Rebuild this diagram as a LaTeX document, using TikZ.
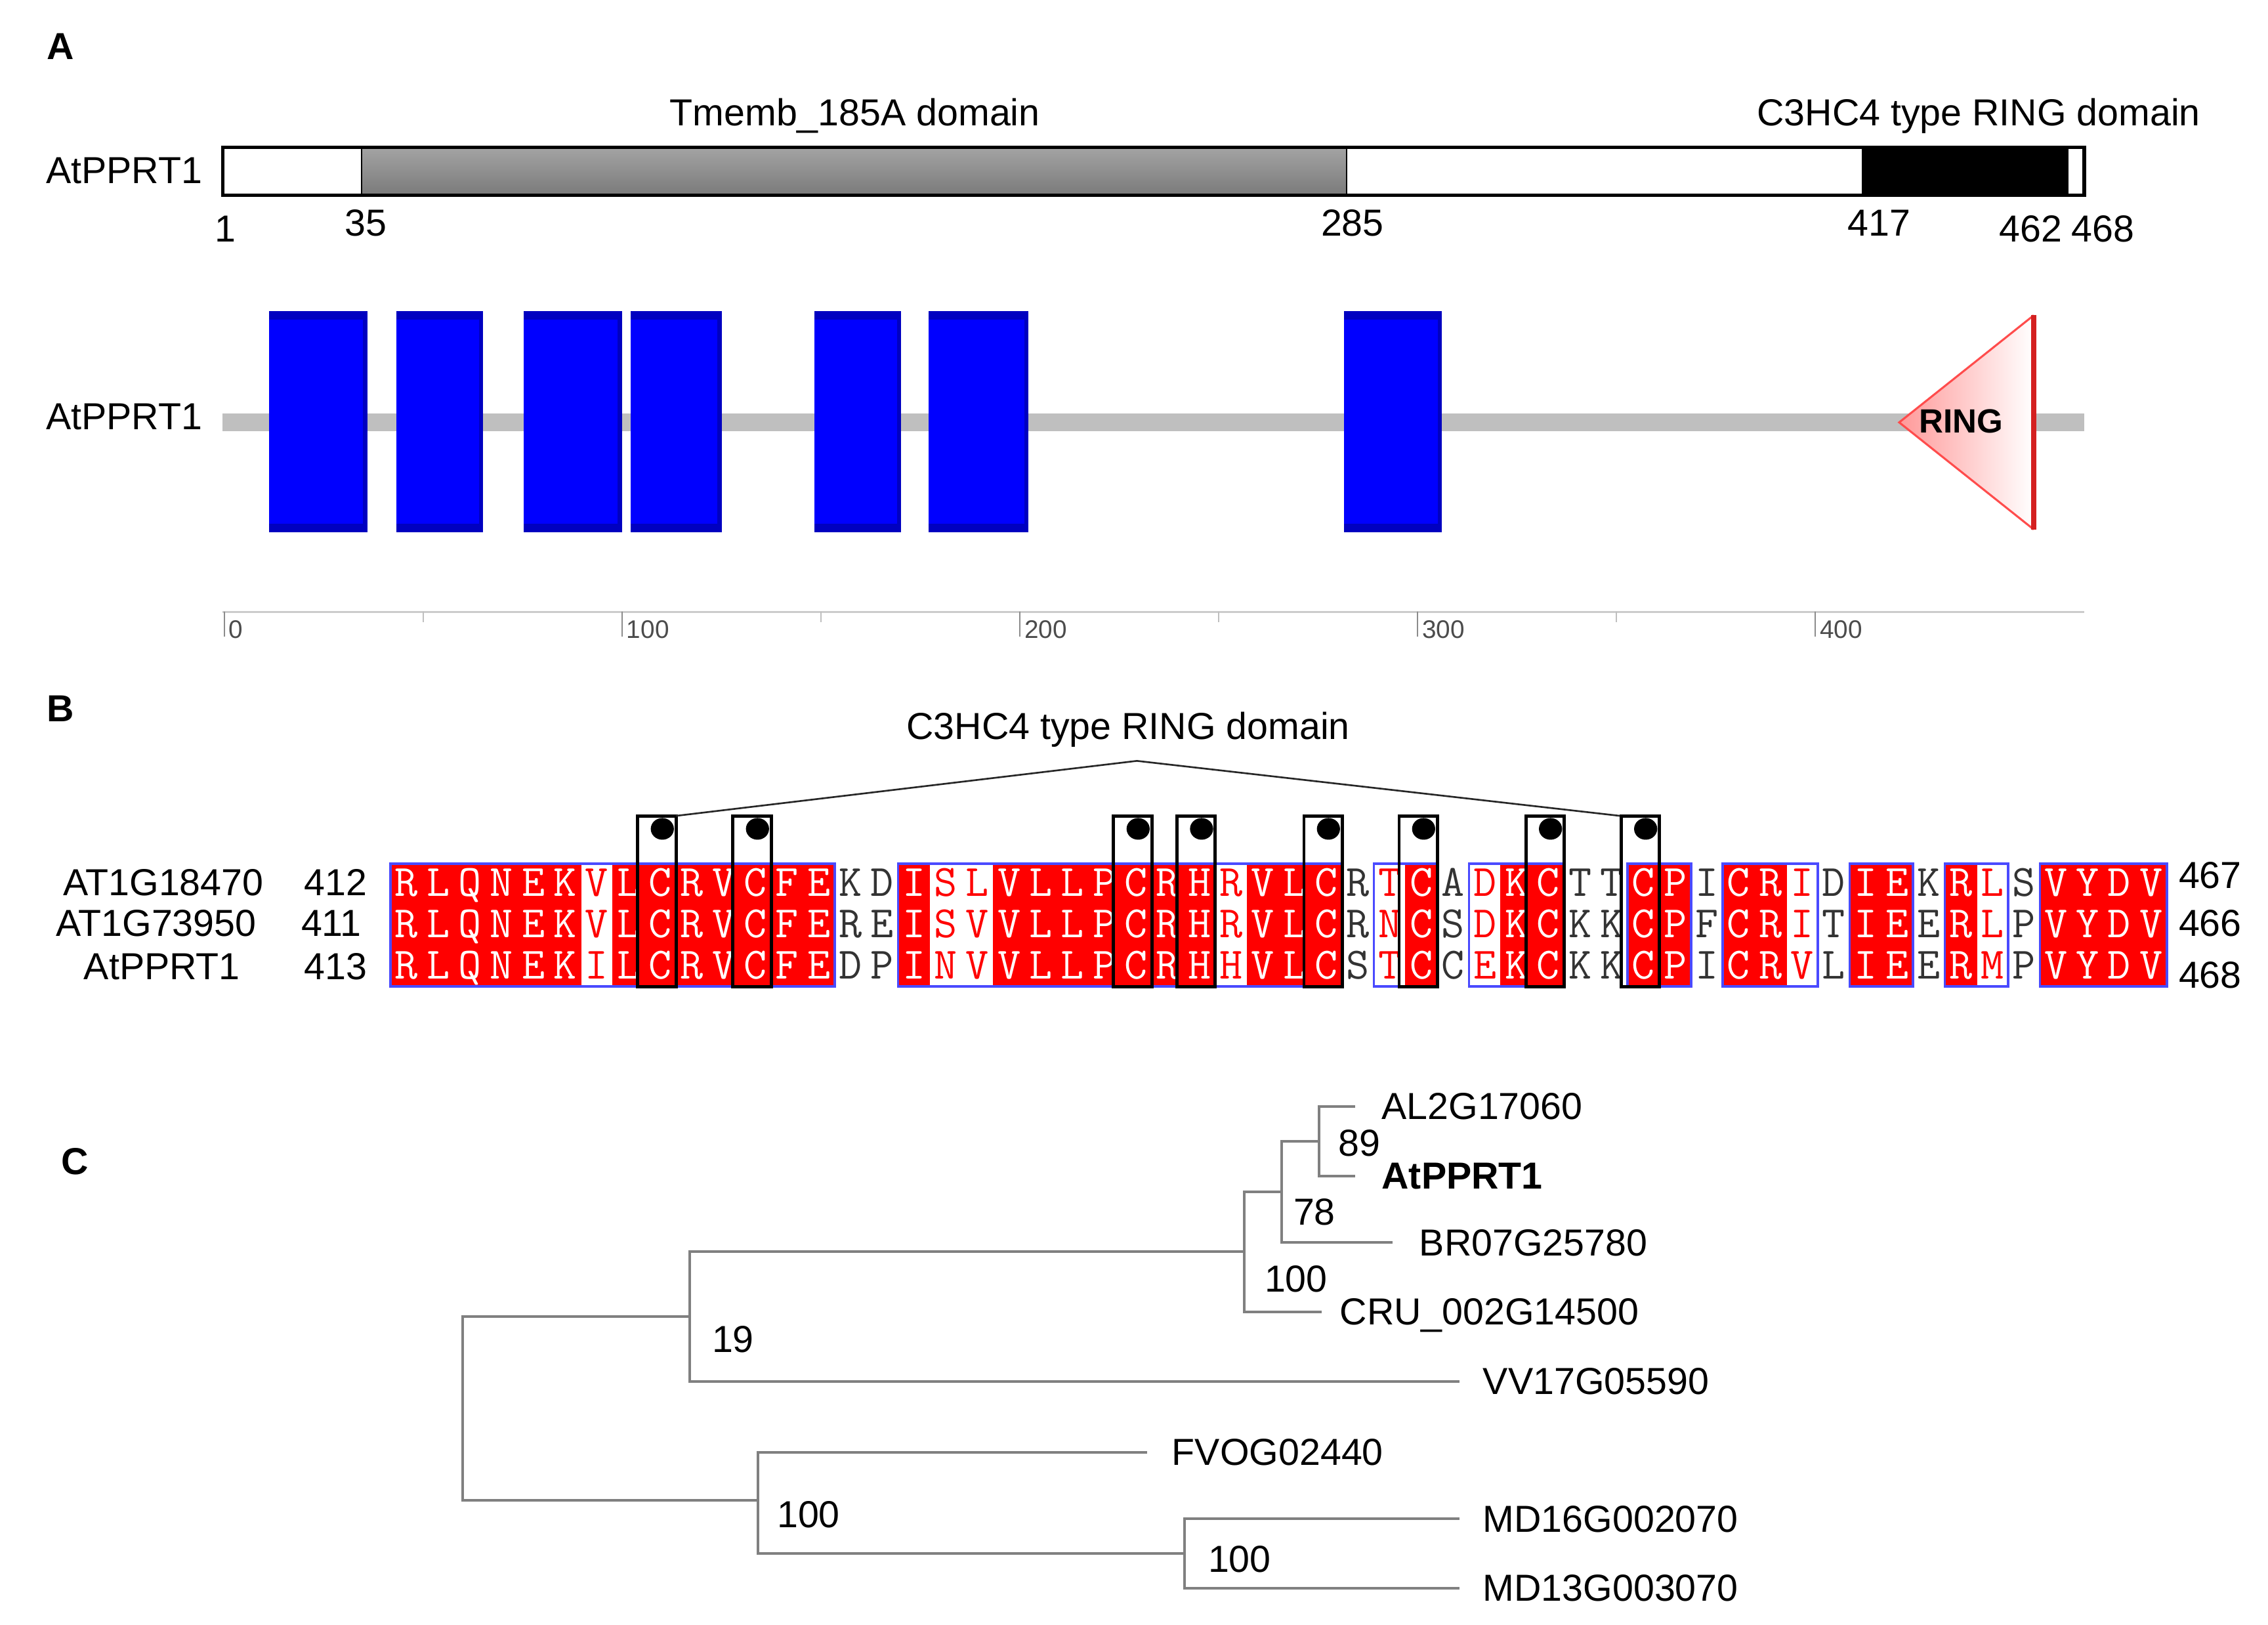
\documentclass[tikz,border=0pt]{standalone}
\usepackage{fontspec}
\setmainfont{Liberation Sans}
\newcommand\lblfont{\fontsize{18.5}{22}\selectfont}
\newcommand\axfont{\fontsize{12.5}{15}\selectfont}
\newcommand\resfont{\fontsize{22}{22}\ttfamily\selectfont\addfontfeatures{FakeStretch=1.12}}
\newcommand\ringfont{\fontsize{16.5}{18}\bfseries\selectfont}
\definecolor{tmblue}{HTML}{0000FF}
\definecolor{tmdark}{HTML}{0000C0}
\definecolor{ringred}{HTML}{D42020}
\definecolor{framebl}{HTML}{4A4AFF}
\definecolor{treegray}{HTML}{808080}
\tikzset{
  lbl/.style={font=\lblfont, inner sep=0pt, anchor=base},
  lblw/.style={lbl, anchor=base west},
  lble/.style={lbl, anchor=base east},
  panel/.style={font=\lblfont\bfseries, inner sep=0pt, anchor=base},
  axlbl/.style={font=\axfont, text=black!70, inner sep=0pt, anchor=base west},
  res/.style={font=\resfont, inner sep=0pt, anchor=base},
  bgR/.style={fill=red}, bgS/.style={}, bgN/.style={},
  txtR/.style={text=white, font=\resfont\addfontfeatures{FakeBold=1.6}},
  txtS/.style={text=red, font=\resfont\addfontfeatures{FakeBold=0.8}},
  txtN/.style={text=black!80},
  frame/.style={draw=framebl, line width=0.4mm},
  cbox/.style={draw=black, line width=0.55mm},
  tree/.style={draw=treegray, line width=0.45mm, line cap=rect},
}
\begin{document}
\begin{tikzpicture}[x=0.25mm,y=-0.25mm]
\useasboundingbox (0,0) rectangle (1568,1123);

% ---------------- Panel A ----------------
\node[panel] (labA) at (42,41) {A};
\node[lbl] (tmlbl) at (591,87) {Tmemb\_185A domain};
\node[lbl] (rglbl) at (1368,87) {C3HC4 type RING domain};
\node[lble] (name1) at (140,127) {AtPPRT1};
\shade[top color=black!36, bottom color=black!52] (250,102) rectangle (931,135);
\fill[black] (1287,102) rectangle (1430,135);
\draw[line width=0.2mm] (250,102) -- (250,135) (931,102) -- (931,135);
\draw[line width=0.6mm] (154,102) rectangle (1441,135);
\node[lbl] (p1) at (156,167) {1};
\node[lbl] (p35) at (253,163) {35};
\node[lbl] (p285) at (935,163) {285};
\node[lbl] (p417) at (1299,163) {417};
\node[lbl] (p462) at (1404,167) {462};
\node[lbl] (p468) at (1454,167) {468};

\node[lble] (name2) at (140,297) {AtPPRT1};
\fill[black!25] (154,286) rectangle (1441,298);
\foreach \l/\r in {186/254,274/334,362/430,436/499,563/623,642/711,929/997}{
  \fill[tmblue] (\l,215) rectangle (\r,368);
  \fill[tmdark] (\l,215) rectangle (\r,221);
  \fill[tmdark] (\l,362) rectangle (\r,368);
  \fill[tmdark] (\r-3,215) rectangle (\r,368);
}
\coordinate (rtip) at (1313,292);
\coordinate (rtop) at (1406,218);
\coordinate (rbot) at (1406,366);
\shade[left color=red!40!white, right color=white] (rtip) -- (rtop) -- (rbot) -- cycle;
\draw[red!70, line width=0.35mm] (rtop) -- (rtip) -- (rbot);
\draw[ringred, line width=1mm] (rtop) -- (rbot);
\node[font=\ringfont, inner sep=0pt, anchor=base] (ring) at (1356,299) {RING};

\draw[black!20, line width=0.35mm] (154,423) -- (1441,423);
\foreach \v in {0,100,200,300,400}{
  \draw[black!45, line width=0.25mm] ({155+2.75*\v},423) -- ++(0,17);
  \node[axlbl] at ({158+2.75*\v},441) {\v};
}
\foreach \v in {50,150,250,350}{
  \draw[black!25, line width=0.25mm] ({155+2.75*\v},423) -- ++(0,7);
}

% ---------------- Panel B ----------------
\node[panel] (labB) at (42,499) {B};
\node[lbl] (ringB) at (780,511) {C3HC4 type RING domain};
\node[lbl] (s1) at (113,619) {AT1G18470};
\node[lbl] (s2) at (108,647) {AT1G73950};
\node[lbl] (s3) at (112,677) {AtPPRT1};
\node[lbl] (s1a) at (232,619) {412};
\node[lbl] (s2a) at (229,647) {411};
\node[lbl] (s3a) at (232,677) {413};
\node[lbl] (s1b) at (1528,614) {467};
\node[lbl] (s2b) at (1528,647) {466};
\node[lbl] (s3b) at (1528,683) {468};

\def\cw{21.93}
\foreach \ty/\ra/\rb/\rc [count=\i] in {
R/R/R/R, R/L/L/L, R/Q/Q/Q, R/N/N/N, R/E/E/E, R/K/K/K, S/V/V/I, R/L/L/L,
R/C/C/C, R/R/R/R, R/V/V/V, R/C/C/C, R/F/F/F, R/E/E/E, N/K/R/D, N/D/E/P,
R/I/I/I, S/S/S/N, S/L/V/V, R/V/V/V, R/L/L/L, R/L/L/L, R/P/P/P, R/C/C/C,
R/R/R/R, R/H/H/H, S/R/R/H, R/V/V/V, R/L/L/L, R/C/C/C, N/R/R/S, S/T/N/T,
R/C/C/C, N/A/S/C, S/D/D/E, R/K/K/K, R/C/C/C, N/T/K/K, N/T/K/K, R/C/C/C,
R/P/P/P, N/I/F/I, R/C/C/C, R/R/R/R, S/I/I/V, N/D/T/L, R/I/I/I, R/E/E/E,
N/K/E/E, R/R/R/R, S/L/L/M, N/S/P/P, R/V/V/V, R/Y/Y/Y, R/D/D/D, R/V/V/V}{
  \pgfmathsetmacro\xl{270+(\i-1)*\cw-0.3}
  \pgfmathsetmacro\xr{270+\i*\cw+0.3}
  \pgfmathsetmacro\xc{270+(\i-0.5)*\cw}
  \path[bg\ty] (\xl,597) rectangle (\xr,682);
  \node[res,txt\ty] (ra\i) at (\xc,619.5) {\ra};
  \node[res,txt\ty] (rb\i) at (\xc,648) {\rb};
  \node[res,txt\ty] (rc\i) at (\xc,676.5) {\rc};
}
\foreach \s/\e in {1/14,17/30,32/33,35/37,40/41,43/45,47/48,50/51,53/56}{
  \draw[frame] ({270+(\s-1)*\cw},597) rectangle ({270+\e*\cw},682);
}
\foreach \k in {9,12,24,26,30,33,37,40}{
  \draw[cbox] ({270+(\k-1)*\cw-4.5},564) rectangle ({270+\k*\cw},682);
  \fill[black] ({270+(\k-0.5)*\cw+1.5},573) ellipse (8 and 7.5);
}
\coordinate (apex) at (786,526);
\coordinate (bxL) at (467.4,564);
\coordinate (bxR) at (1120,564);
\draw[black!85, line width=0.3mm] (bxL) -- (apex) -- (bxR);

% ---------------- Panel C ----------------
\node[panel] (labC) at (52,812) {C};
\coordinate (nR) at (320,973.5);
\coordinate (nU) at (477,910);
\coordinate (nA) at (860,865);
\coordinate (nB) at (886,824);
\coordinate (nC) at (912,789);
\coordinate (nL) at (524,1037);
\coordinate (nM) at (819,1074);
\coordinate (tAL) at (936,765);
\coordinate (tAt) at (936,813);
\coordinate (tBR) at (962,859);
\coordinate (tCR) at (913,907);
\coordinate (tVV) at (1008,955);
\coordinate (tFV) at (792,1004);
\coordinate (tM16) at (1008,1050);
\coordinate (tM13) at (1008,1098);
\draw[tree] (nR) |- (nU);
\draw[tree] (nR) |- (nL);
\draw[tree] (nU) |- (nA);
\draw[tree] (nU) |- (tVV);
\draw[tree] (nA) |- (nB);
\draw[tree] (nA) |- (tCR);
\draw[tree] (nB) |- (nC);
\draw[tree] (nB) |- (tBR);
\draw[tree] (nC) |- (tAL);
\draw[tree] (nC) |- (tAt);
\draw[tree] (nL) |- (tFV);
\draw[tree] (nL) |- (nM);
\draw[tree] (nM) |- (tM16);
\draw[tree] (nM) |- (tM13);

\node[lblw] (lAL) at (955,774) {AL2G17060};
\node[lblw, font=\lblfont\bfseries] (lAt) at (955,822) {AtPPRT1};
\node[lblw] (lBR) at (981,868) {BR07G25780};
\node[lblw] (lCR) at (926,916) {CRU\_002G14500};
\node[lblw] (lVV) at (1025,964) {VV17G05590};
\node[lblw] (lFV) at (810,1013) {FVOG02440};
\node[lblw] (lM16) at (1025,1059) {MD16G002070};
\node[lblw] (lM13) at (1025,1107) {MD13G003070};

\node[lblw] (b19) at (492,935) {19};
\node[lblw] (b100a) at (874,893) {100};
\node[lblw] (b78) at (894,847) {78};
\node[lblw] (b89) at (925,799) {89};
\node[lblw] (b100b) at (537,1056) {100};
\node[lblw] (b100c) at (835,1087) {100};
\end{tikzpicture}
\end{document}
